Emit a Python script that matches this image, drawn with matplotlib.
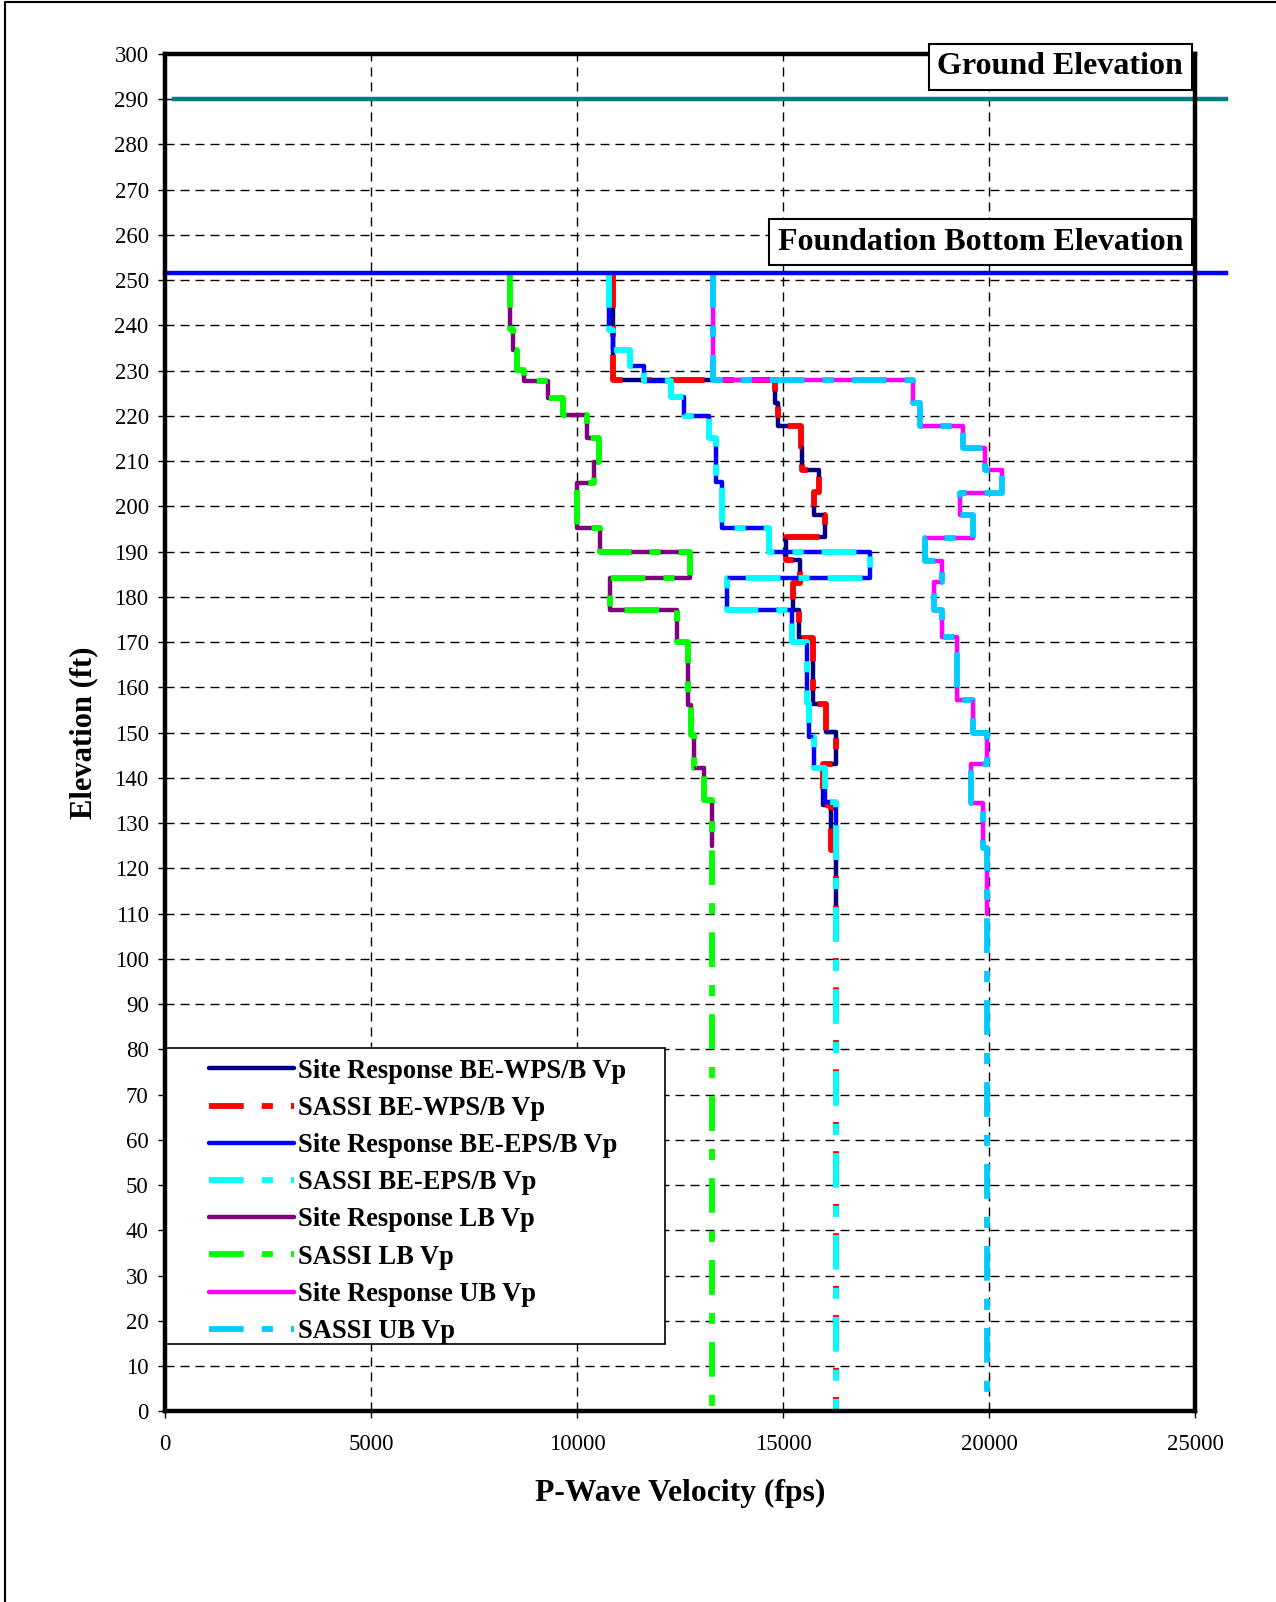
import numpy as np
import matplotlib
matplotlib.use("Agg")
import matplotlib.pyplot as plt
from matplotlib.patches import Rectangle
from matplotlib.lines import Line2D

plt.rcParams['font.family'] = ['Liberation Serif', 'DejaVu Serif']
plt.rcParams['lines.scale_dashes'] = False

# reference elevations (ft)
ground_elev = 290.0
foundation_elev = 251.5

# layer boundaries (elevation, ft, top -> bottom) and Vp (fps) per layer
elev_wps = [251.5, 227.9, 222.9, 217.8, 213.1, 208.0, 203.2, 198.1, 193.2, 188.1,
            183.0, 177.0, 171.0, 156.3, 150.1, 143.1, 134.0, 124.0, 0.0]
vp_wps = [10860, 14800, 14880, 15420, 15460, 15865, 15740, 16010, 15060, 15400,
          15230, 15390, 15715, 16030, 16290, 15960, 16160, 16290]

elev_eps = [251.5, 239.0, 234.5, 230.9, 227.7, 224.1, 219.9, 215.0, 205.4, 195.1,
            190.0, 184.1, 177.1, 170.1, 156.5, 149.1, 142.1, 134.7, 0.0]
vp_eps = [10760, 10870, 11280, 11630, 12270, 12590, 13200, 13370, 13520, 14650,
          17100, 13630, 15200, 15570, 15630, 15740, 16020, 16270]

elev_lb = [251.5, 239.2, 234.5, 230.2, 227.8, 224.0, 220.2, 215.0, 209.9, 205.2,
           195.1, 190.0, 184.1, 177.1, 170.1, 156.1, 149.5, 142.1, 135.1, 0.0]
vp_lb = [8370, 8440, 8530, 8710, 9300, 9645, 10245, 10535, 10405, 9985,
         10550, 12725, 10785, 12410, 12694, 12752, 12840, 13078, 13260]

elev_ub = [251.5, 227.9, 222.9, 217.8, 212.9, 208.0, 203.0, 198.1, 193.0, 187.9,
           183.3, 177.1, 171.2, 157.2, 150.0, 143.0, 134.4, 124.4, 0.0]
vp_ub = [13300, 18140, 18320, 19350, 19890, 20300, 19290, 19610, 18440, 18840,
         18660, 18840, 19220, 19610, 19935, 19550, 19840, 19935]

# bottom of the site response columns (SASSI profiles go down to 0)
sr_bottom = {'wps': 110.0, 'eps': 125.0, 'lb': 125.0, 'ub': 110.0}

labels = ['Site Response BE-WPS/B Vp', 'SASSI BE-WPS/B Vp',
          'Site Response BE-EPS/B Vp', 'SASSI BE-EPS/B Vp',
          'Site Response LB Vp', 'SASSI LB Vp',
          'Site Response UB Vp', 'SASSI UB Vp']


def step_profile(bounds, vp, bottom=0.0):
    """build (x, y) for a layered Vp profile drawn as vertical steps"""
    xs, ys = [], []
    for top, bot, v in zip(bounds[:-1], bounds[1:], vp):
        if top <= bottom:
            break
        xs += [v, v]
        ys += [top, max(bot, bottom)]
    return np.array(xs), np.array(ys)


fig = plt.figure(figsize=(12.76, 16.02), dpi=100)
ax = fig.add_axes([165.3 / 1276, 1 - 1411.3 / 1602, 1030 / 1276, 1357.5 / 1602])

# page border (left and top edges)
fig.lines.append(Line2D([4.5 / 1276, 4.5 / 1276, 1.0], [0.0, 1 - 2 / 1602, 1 - 2 / 1602],
                        transform=fig.transFigure, color='black', linewidth=1.5))

dash = (0, (25, 13, 8, 13))
series = [
    (elev_wps, vp_wps, sr_bottom['wps'], '#000080', '-', 3.2),
    (elev_wps, vp_wps, 0.0, '#FF0000', dash, 4.2),
    (elev_eps, vp_eps, sr_bottom['eps'], '#0000FF', '-', 3.2),
    (elev_eps, vp_eps, 0.0, '#00FFFF', dash, 4.2),
    (elev_lb, vp_lb, sr_bottom['lb'], '#800080', '-', 3.2),
    (elev_lb, vp_lb, 0.0, '#00FF00', dash, 4.2),
    (elev_ub, vp_ub, sr_bottom['ub'], '#FF00FF', '-', 3.2),
    (elev_ub, vp_ub, 0.0, '#00CCFF', dash, 4.2),
]
for (bounds, vp, bot, color, ls, lw), lab in zip(series, labels):
    x, y = step_profile(bounds, vp, bot)
    ax.plot(x, y, color=color, linestyle=ls, linewidth=lw, label=lab,
            solid_capstyle='round', solid_joinstyle='round',
            dash_capstyle='butt', zorder=3)

# ground and foundation bottom lines run past the right edge
ax.plot([200, 25750], [ground_elev, ground_elev], color='#008080', linewidth=3.2,
        clip_on=False, zorder=4)
ax.plot([0, 25750], [foundation_elev, foundation_elev], color='#0000FF', linewidth=3.2,
        clip_on=False, zorder=4)

box = dict(boxstyle='square,pad=0.27', facecolor='white', edgecolor='black', linewidth=1.5)
ax.text(24700, 297.1, 'Ground Elevation', ha='right', va='center', fontsize=23,
        fontweight='bold', bbox=box, zorder=6)
ax.text(24700, 258.4, 'Foundation Bottom Elevation', ha='right', va='center',
        fontsize=23, fontweight='bold', bbox=box, zorder=6)

ax.set_xlim(0, 25000)
ax.set_ylim(0, 300)
ax.set_xticks(np.arange(0, 25001, 5000))
ax.set_yticks(np.arange(0, 301, 10))
ax.grid(True, color='black', linestyle=(0, (6.5, 4.3)), linewidth=1.0)
ax.set_axisbelow(True)
for sp in ax.spines.values():
    sp.set_linewidth(3.2)
    sp.set_zorder(5)
ax.tick_params(axis='both', direction='out', length=5, width=1, labelsize=16.5)
ax.tick_params(axis='x', pad=11)
ax.tick_params(axis='y', pad=7)

ax.set_xlabel('P-Wave Velocity (fps)', fontsize=22.8, fontweight='bold')
ax.set_ylabel('Elevation (ft)', fontsize=22, fontweight='bold')
ax.xaxis.set_label_coords(0.5, -0.0605)
ax.xaxis.label.set_verticalalignment('center')
ax.yaxis.set_label_coords(-0.079, 0.5)
ax.yaxis.label.set_verticalalignment('center')

# legend box drawn as a patch, entries on top without their own frame
ax.add_patch(Rectangle((0, 14.9), 12130, 65.4, facecolor='white', edgecolor='black',
                       linewidth=1.2, zorder=4))
leg = ax.legend(loc='upper left', bbox_to_anchor=(0.0424, 0.2598), frameon=False,
                borderpad=0, borderaxespad=0, handlelength=3.2, handletextpad=0.16,
                labelspacing=0.46, prop={'weight': 'bold', 'size': 19.1})
leg.set_zorder(6)

fig.savefig('out.png', dpi=100)
